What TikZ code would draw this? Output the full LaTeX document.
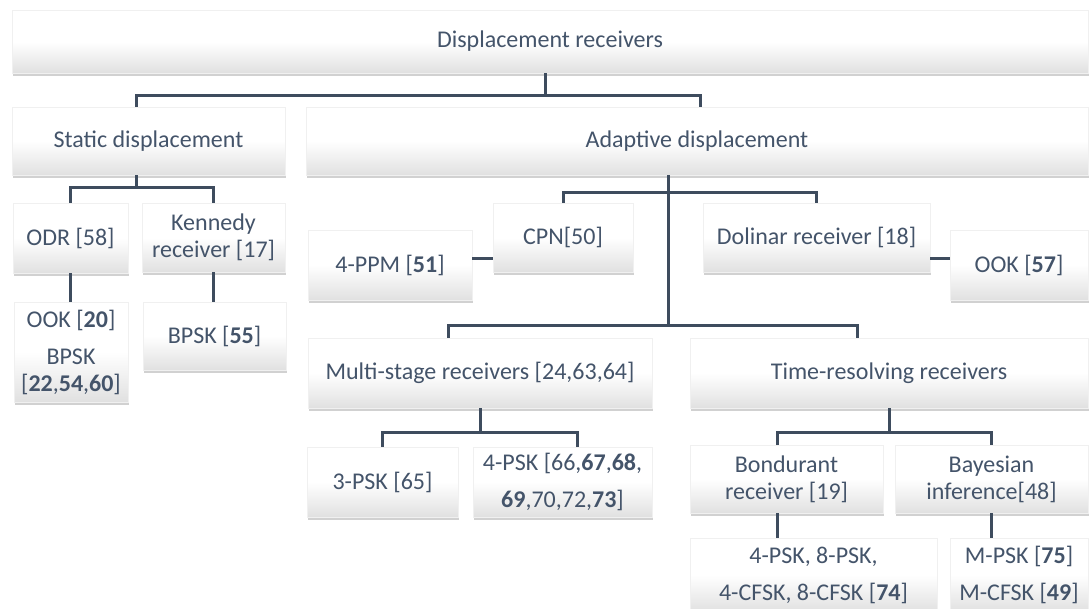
\documentclass[tikz,border=0pt]{standalone}
\usepackage{fontspec}
\setmainfont{Carlito}
\usetikzlibrary{shadows, calc, positioning}
\definecolor{ink}{HTML}{44546A}
\definecolor{wire}{HTML}{3E4C5E}

\begin{document}
\begin{tikzpicture}[x=1pt, y=-1pt,
    box/.style n args={2}{rectangle, minimum width=#1pt, minimum height=#2pt,
        inner sep=0pt, align=center, text=ink,
        draw=black!6, line width=.4pt,
        top color=white, bottom color=black!12, middle color=white,
        drop shadow={shadow xshift=1pt, shadow yshift=-3pt, opacity=.3, fill=black!60}},
    link/.style={draw=wire, line width=3pt},
    font=\fontsize{24}{27}\selectfont]
    \useasboundingbox (0,0) rectangle (1090,608);
    \clip (0,0) rectangle (1090,608);

    % top levels
    \node[box={1076}{63}] (top) at (550,41.5) {Displacement receivers};
    \node[box={273}{68}] (stat) at (148.5,141) {Static displacement};
    \node[box={782}{68}] (adap) at (697,141) {Adaptive displacement};

    % static branch
    \node[box={115}{70}] (odr) at (70.5,238) {ODR [58]};
    \node[box={143}{69}] (ken) at (213.5,237.5) {Kennedy\\receiver [17]};
    \node[box={114}{100}] (ookA) at (71,352) {OOK [\textbf{20}]\\[10pt]BPSK\\{[}\textbf{22},\textbf{54},\textbf{60}]};
    \node[box={143}{68}] (bpskA) at (214.5,336) {BPSK [\textbf{55}]};

    % adaptive branch
    \node[box={164}{70}] (ppm) at (390,265) {4-PPM [\textbf{51}]};
    \node[box={140}{69}] (cpn) at (563,237.5) {CPN[50]};
    \node[box={227}{69}] (dol) at (816.5,237.5) {Dolinar receiver [18]};
    \node[box={138}{70}] (ookB) at (1019,265) {OOK [\textbf{57}]};
    \node[box={344}{70}] (multi) at (480,373) {Multi-stage receivers [24,63,64]};
    \node[box={398}{70}] (time) at (889,373) {Time-resolving receivers};
    \node[box={151}{70}] (psk3) at (382.5,482) {3-PSK [65]};
    \node[box={179}{70}] (psk4) at (562.5,482) {4-PSK [66,\textbf{67},\textbf{68},\\[10pt]\textbf{69},70,72,\textbf{73}]};
    \node[box={193}{68}] (bond) at (786.5,479) {Bondurant\\receiver [19]};
    \node[box={193}{68}] (bay) at (991.5,479) {Bayesian\\inference[48]};
    \node[box={247}{74}] (modA) at (813.5,575) {4-PSK, 8-PSK,\\[10pt]4-CFSK, 8-CFSK [\textbf{74}]};
    \node[box={138}{74}] (modB) at (1019,575) {M-PSK [\textbf{75}]\\[10pt]M-CFSK [\textbf{49}]};

    % connectors
    \draw[link] (top.south -| 545,0) -- ++(0,22) coordinate (b1);
    \draw[link] (stat.north -| 136,0) |- (b1) -| (adap.north -| 700,0);
    \draw[link] (stat.south -| 136,0) -- ++(0,12) coordinate (b2);
    \draw[link] (odr.north) |- (b2) -| (ken.north);
    \draw[link] (odr.south) -- (odr.south |- ookA.north);
    \draw[link] (ken.south) -- (ken.south |- bpskA.north);

    \coordinate (b3) at (668,192);
    \coordinate (b4) at (668,325);
    \draw[link] (adap.south -| b3) -- (b4);
    \draw[link] (cpn.north) |- (b3) -| (dol.north);
    \draw[link] (ppm.east |- 0,258) -- (cpn.west |- 0,258);
    \draw[link] (dol.east |- 0,258) -- (ookB.west |- 0,258);
    \draw[link] (multi.north -| 448,0) |- (b4) -| (time.north -| 857,0);

    \draw[link] (multi.south) -- ++(0,24) coordinate (b5);
    \draw[link] (psk3.north) |- (b5) -| (psk4.north -| 577,0);
    \draw[link] (time.south) -- ++(0,24) coordinate (b6);
    \draw[link] (bond.north -| 777,0) |- (b6) -| (bay.north);
    \draw[link] (bond.south -| 777,0) -- (modA.north -| 777,0);
    \draw[link] (bay.south) -- (bay.south |- modB.north);
\end{tikzpicture}
\end{document}
